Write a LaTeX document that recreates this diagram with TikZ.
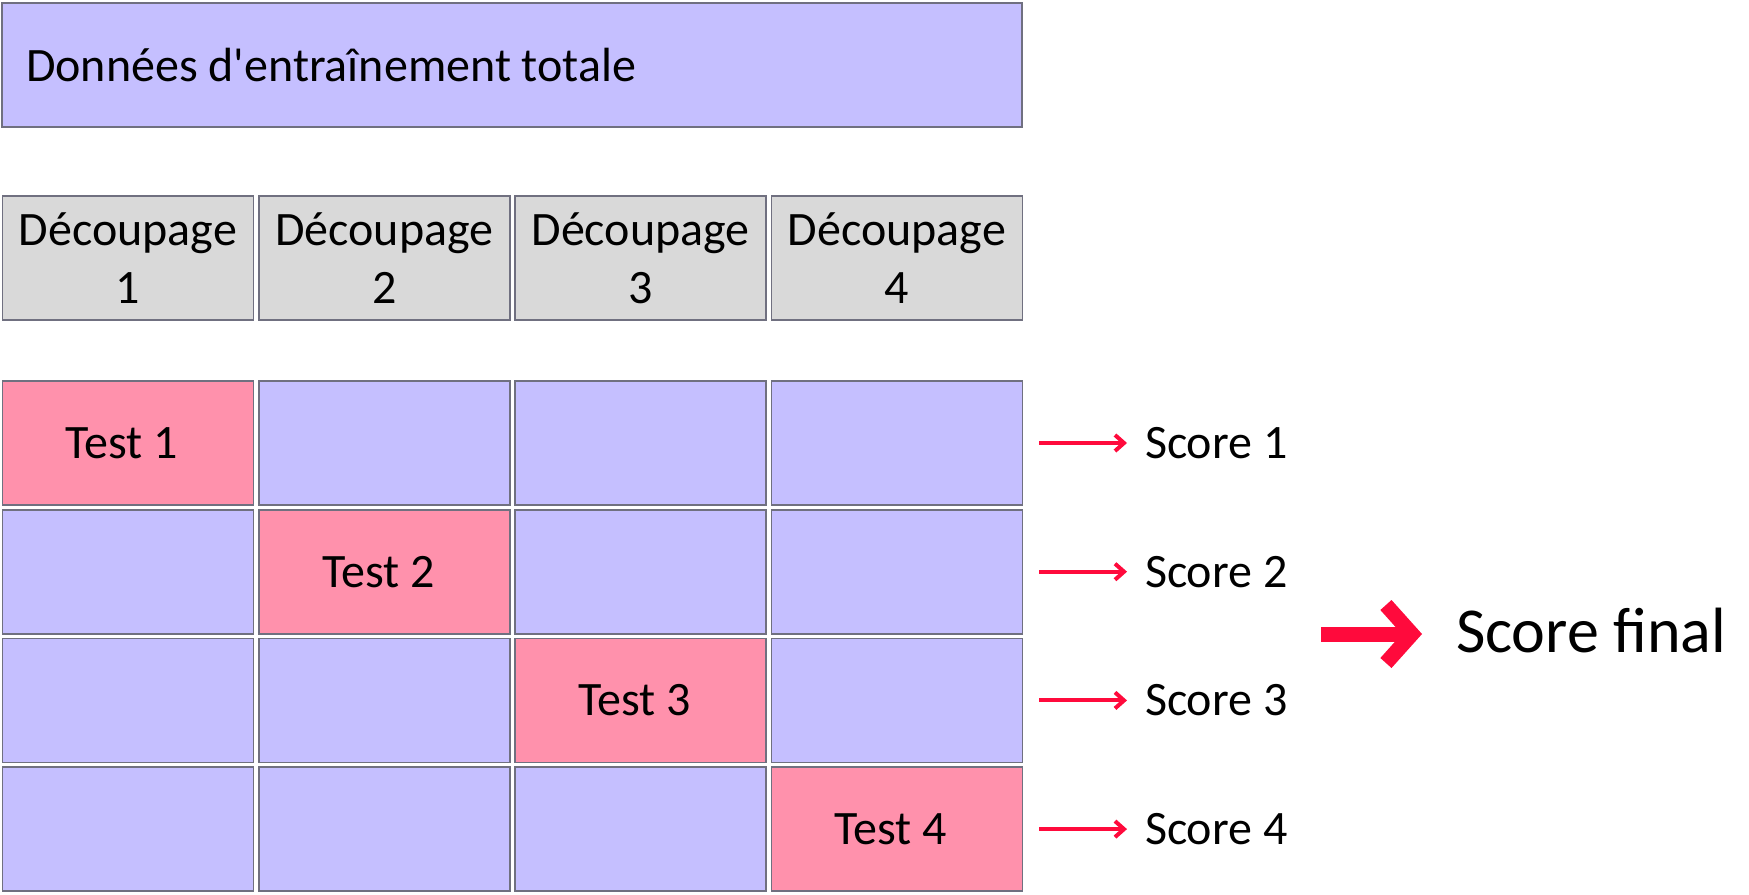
\documentclass[tikz,border=0pt]{standalone}
\usepackage{fontspec}
\setmainfont{Carlito}
\usetikzlibrary{arrows.meta}
\definecolor{trainpurple}{RGB}{197,191,255}
\definecolor{testpink}{RGB}{255,145,172}
\definecolor{foldgray}{RGB}{217,217,217}
\definecolor{cellline}{RGB}{112,112,128}
\definecolor{scorered}{RGB}{255,10,60}
\begin{document}
\begin{tikzpicture}[x=0.5pt, y=-0.5pt,
        cell/.style={draw=cellline, line width=0.8pt, fill=trainpurple, minimum width=125.5pt, minimum height=62pt, inner sep=0pt, font=\fontsize{24}{29}\selectfont},
        testcell/.style={cell, fill=testpink},
        foldcell/.style={cell, fill=foldgray, align=center},
        score/.style={anchor=west, inner sep=0pt, outer xsep=9pt, font=\fontsize{24}{29}\selectfont},
        scorearrow/.style={draw=scorered, line width=2pt, -{Straight Barb[length=4.5pt,width=8pt]}},
        finalarrow/.style={draw=scorered, line width=7.5pt, -{Straight Barb[length=13pt,width=29pt]}}]
    \useasboundingbox (0,0) rectangle (1749,894);
    % whole training set
    \node[cell, minimum width=510pt, text width=486pt, inner xsep=12pt, align=flush left] (total) at (512,65) {Données d\textquotesingle entraînement totale};
    % folds
    \foreach \i in {1,...,4}
        \node[foldcell] (d\i) at ({128+256.3*(\i-1)},258) {Découpage\\\i};
    % one row per round, test fold on the diagonal
    \foreach \j in {1,...,4}{
        \foreach \i in {1,...,4}{
            \ifnum\i=\j
                \node[testcell] (c\i\j) at ({128+256.3*(\i-1)},{443+128.7*(\j-1)}) {Test \i\kern0.25em};
            \else
                \node[cell] (c\i\j) at ({128+256.3*(\i-1)},{443+128.7*(\j-1)}) {};
            \fi
        }
        \node[score] (s\j) at (1127,{443+128.7*(\j-1)}) {Score \j};
        \draw[scorearrow] ([xshift=8pt]c4\j.east) -- (s\j.west);
    }
    \coordinate (fstart) at (1321,634);
    \node[anchor=base west, inner sep=0pt, outer xsep=17pt, font=\fontsize{32}{38}\selectfont] (final) at (1422,652) {Score final};
    \draw[finalarrow] (fstart) -- (final.west |- fstart);
\end{tikzpicture}
\end{document}
